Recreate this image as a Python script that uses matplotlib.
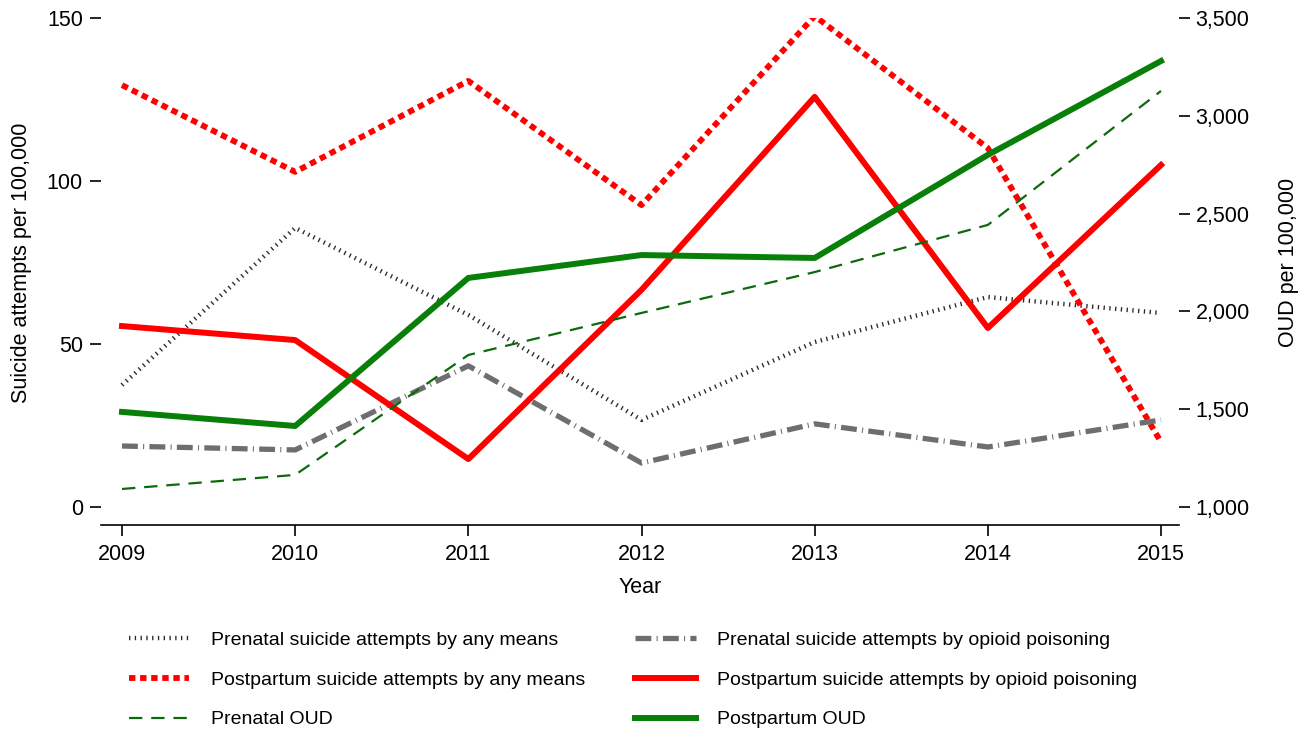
import matplotlib
matplotlib.use("Agg")
import matplotlib.pyplot as plt
from matplotlib.ticker import FuncFormatter

plt.rcParams['font.family'] = ['Liberation Sans', 'DejaVu Sans']

years = [2009, 2010, 2011, 2012, 2013, 2014, 2015]

# suicide attempts per 100,000 (left axis)
prenatal_any = [37.4, 85.6, 58.9, 26.7, 50.6, 64.4, 59.5]
postpartum_any = [129.4, 102.8, 130.7, 92.6, 150.6, 110.1, 19.9]
prenatal_opioid = [18.7, 17.5, 43.3, 13.5, 25.5, 18.4, 26.7]
postpartum_opioid = [55.5, 51.2, 14.7, 66.6, 125.8, 54.9, 104.9]

# OUD per 100,000 (right axis)
prenatal_oud = [1092, 1164, 1777, 1992, 2201, 2442, 3127]
postpartum_oud = [1486, 1414, 2171, 2288, 2273, 2800, 3280]

fig = plt.figure(figsize=(13.09, 7.34), dpi=100)
ax = fig.add_axes([0.0772, 0.3093, 0.8235, 0.6662])
ax2 = ax.twinx()

l1, = ax.plot(years, prenatal_any, color='#2a2a2a', lw=3.2, dashes=(0.3, 1.0),
              label='Prenatal suicide attempts by any means')
l2, = ax.plot(years, postpartum_any, color='#ff0000', lw=4.2, dashes=(1.1, 0.8),
              label='Postpartum suicide attempts by any means')
l4, = ax.plot(years, prenatal_opioid, color='#6e6e6e', lw=3.8, dashes=(3, 1, 0.2, 1),
              label='Prenatal suicide attempts by opioid poisoning')
l5, = ax.plot(years, postpartum_opioid, color='#ff0000', lw=4.3,
              label='Postpartum suicide attempts by opioid poisoning')
l3, = ax2.plot(years, prenatal_oud, color='#0b6b0b', lw=1.6, dashes=(6, 4),
               label='Prenatal OUD')
l6, = ax2.plot(years, postpartum_oud, color='#087f08', lw=4.3,
               label='Postpartum OUD')

ax.set_xlim(2008.879, 2015.104)
ax.set_ylim(0, 150)
ax2.set_ylim(1000, 3500)
ax.set_xticks(years)
ax.set_yticks([0, 50, 100, 150])
ax2.set_yticks([1000, 1500, 2000, 2500, 3000, 3500])
ax2.yaxis.set_major_formatter(FuncFormatter(lambda v, p: f"{int(v):,}"))

for a in (ax, ax2):
    for s in ('top', 'left', 'right', 'bottom'):
        a.spines[s].set_visible(False)
ax.spines['bottom'].set_visible(True)
ax.spines['bottom'].set_position(('outward', 13))
ax.spines['bottom'].set_linewidth(1.2)

ax.tick_params(axis='y', direction='out', length=8, width=1.2, pad=5, labelsize=15.5)
ax.tick_params(axis='x', direction='out', length=8, width=1.2, pad=6, labelsize=15.5)
ax2.tick_params(axis='y', direction='out', length=8, width=1.2, pad=4, labelsize=15.5)

ax.set_xlabel('Year', fontsize=15.5, labelpad=8)
ax.set_ylabel('Suicide attempts per 100,000', fontsize=15.5, labelpad=11)
ax2.set_ylabel('OUD per 100,000', fontsize=15.5, labelpad=20)

fig.legend(handles=[l1, l2, l3, l4, l5, l6], ncol=2, loc='center',
           bbox_to_anchor=(0.4836, 0.0736), frameon=False, fontsize=14,
           handlelength=3.1, handletextpad=1.1, columnspacing=2.6,
           labelspacing=1.13)

fig.savefig('out.png', dpi=100)
